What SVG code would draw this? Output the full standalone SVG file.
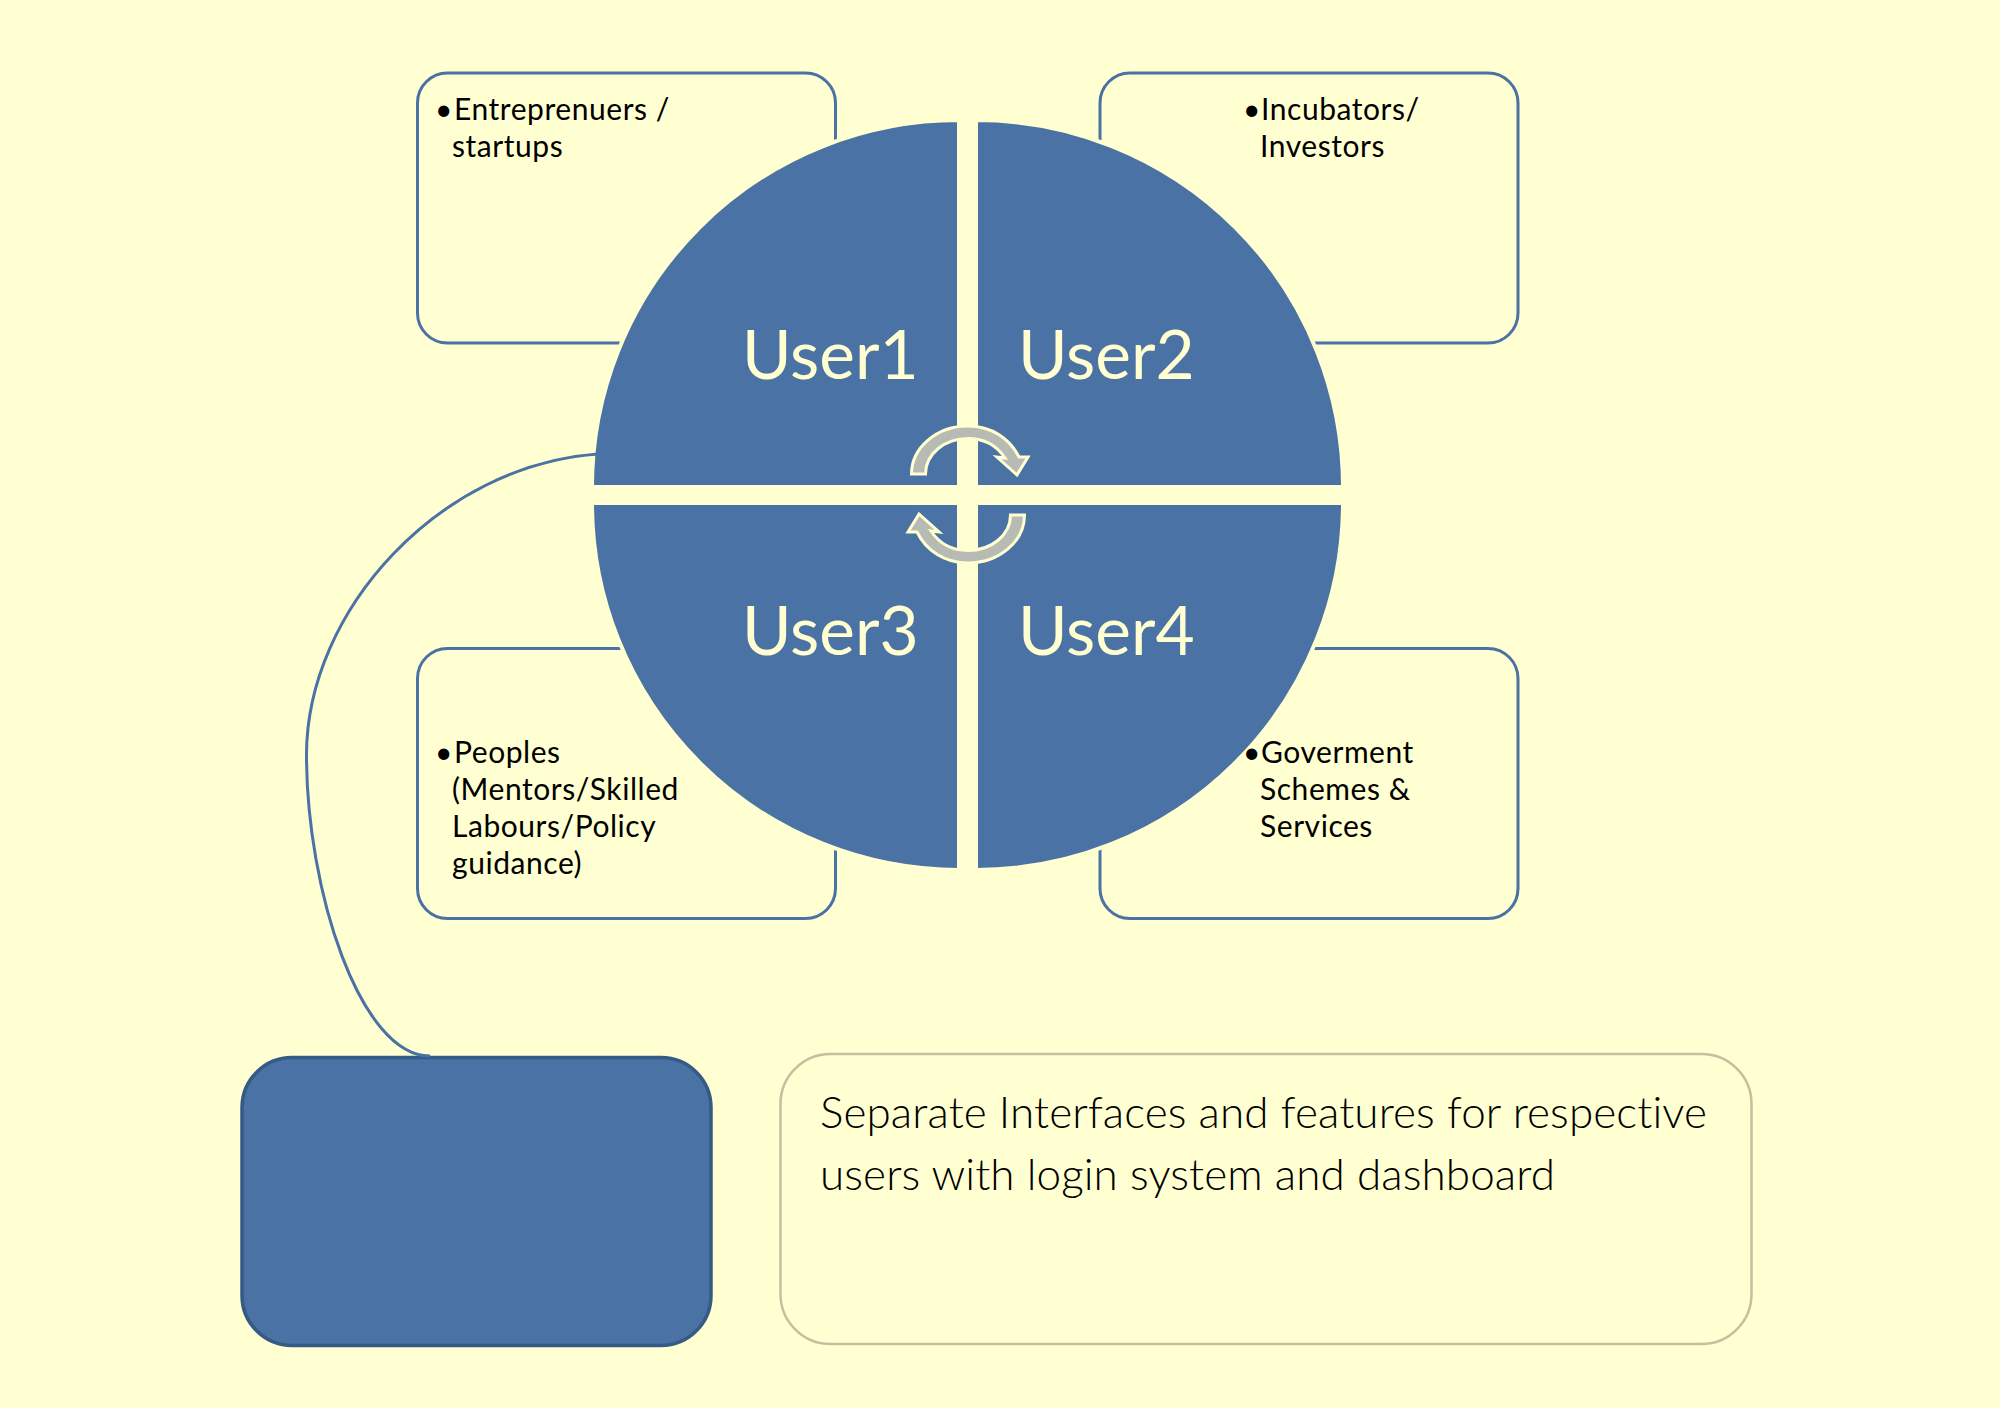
<svg xmlns="http://www.w3.org/2000/svg" xmlns:xlink="http://www.w3.org/1999/xlink" width="2000" height="1408" viewBox="0 0 2000 1408">
<style>
text{font-variant-ligatures:none}
.box{fill:#ffffd1;stroke:#4a72a4;stroke-width:3}
.q{fill:#4a72a4;stroke:#ffffd1;stroke-width:4}
.t{font-family:Lato,"Liberation Sans",sans-serif;fill:#000;font-size:30px;letter-spacing:.55px}
.u{font-family:Lato,"Liberation Sans",sans-serif;fill:#ffffd1;font-size:67.500px}
.d{font-family:Lato,"Liberation Sans",sans-serif;fill:#000;font-size:44px;font-weight:300;letter-spacing:.11px}
.arr{fill:#b8bbb4;stroke:#ffffd1;stroke-width:3}
</style>
<defs>
<path id="arrow" d="M911.500 474 C911.500 447.500 936.800 426 968 426 C992 426 1010 439 1019 457 L1028 457 L1017 475 L997 457 L1005 458 C997 446 984 438.500 968 438.500 C944.500 438.500 925.500 454 925.500 474 Z"/>
</defs>
<rect width="2000" height="1408" fill="#ffffd1"/>
<g id="box1"><rect class="box" x="417.500" y="73" width="418" height="270" rx="30"/><text class="t" x="435" y="119.500">•</text><text class="t" x="454" y="119.500">Entreprenuers /</text><text class="t" x="452" y="156.500">startups</text></g>
<g id="box2"><rect class="box" x="1100" y="73" width="418" height="270" rx="30"/><text class="t" x="1243" y="119.500">•</text><text class="t" x="1261" y="119.500">Incubators/</text><text class="t" x="1260" y="156.500">Investors</text></g>
<g id="box3"><rect class="box" x="417.500" y="648.500" width="418" height="270" rx="30"/><text class="t" x="435" y="762.500">•</text><text class="t" x="454" y="762.500">Peoples</text><text class="t" x="452" y="799.500">(Mentors/Skilled</text><text class="t" x="452" y="836.500">Labours/Policy</text><text class="t" x="452" y="873.500">guidance)</text></g>
<g id="box4"><rect class="box" x="1100" y="648.500" width="418" height="270" rx="30"/></g>
<g id="wheel">
<g id="user1"><path class="q" d="M959 487 H592 A367 367 0 0 1 959 120 Z"/><text class="u" x="742" y="379">User1</text></g>
<g id="user2"><path class="q" d="M976 487 V120 A367 367 0 0 1 1343 487 Z"/><text class="u" x="1018" y="379">User2</text></g>
<g id="user3"><path class="q" d="M959 503 V870 A367 367 0 0 1 592 503 Z"/><text class="u" x="742" y="654.500">User3</text></g>
<g id="user4"><path class="q" d="M976 503 H1343 A367 367 0 0 1 976 870 Z"/><text class="u" x="1018" y="654.500">User4</text></g>
</g>
<g id="box4text"><text class="t" x="1243" y="762.500">•</text><text class="t" x="1261" y="762.500">Goverment</text><text class="t" x="1260" y="799.500">Schemes &amp;</text><text class="t" x="1260" y="836.500">Services</text></g>
<g id="arrows"><use xlink:href="#arrow" class="arr"/><use xlink:href="#arrow" class="arr" transform="rotate(180 968 494.500)"/></g>
<g id="bluebox"><rect x="242" y="1057.500" width="469" height="288" rx="50" fill="#4a72a4" stroke="#345a85" stroke-width="3.500"/></g>
<g id="connectors"><path d="M598 454 C440 465 306.500 610 306.500 755 C306.500 890 360 1056 430 1056" fill="none" stroke="#4a72a4" stroke-width="3"/></g>
<g id="note"><rect x="780.500" y="1054" width="971" height="290" rx="50" fill="#ffffd1" stroke="#c6bf9f" stroke-width="2.500"/><text class="d" x="820" y="1128">Separate Interfaces and features for respective</text><text class="d" x="820" y="1190">users with login system and dashboard</text></g>
</svg>
